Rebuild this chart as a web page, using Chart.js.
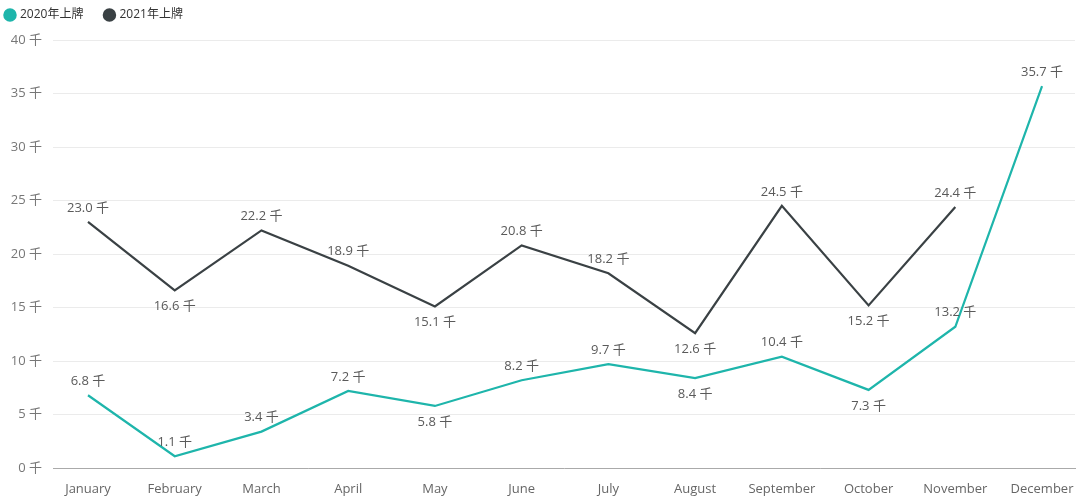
<!DOCTYPE html>
<html><head><meta charset="utf-8">
<script src="https://cdn.jsdelivr.net/npm/chart.js@4/dist/chart.umd.min.js"></script>
<style>html,body{margin:0;padding:0;background:#fff}#c{display:block}</style>
</head><body>
<canvas id="c" width="1080" height="497"></canvas>
<script>
const categories = ["January","February","March","April","May","June","July","August","September","October","November","December"];
const seriesNames = ["2020年上牌","2021年上牌"];
const values2020 = [6.8,1.1,3.4,7.2,5.8,8.2,9.7,8.4,10.4,7.3,13.2,35.7];
const values2021 = [23.0,16.6,22.2,18.9,15.1,20.8,18.2,12.6,24.5,15.2,24.4,null];
const yTicks = [0,5,10,15,20,25,30,35,40];
const unit = " 千";

const FONT = "'Open Sans','Noto Sans CJK SC',sans-serif";
const toPts = arr => arr.map((v,i)=>({x:i,y:v}));

const labelPlugin = {
  id:'pointLabels',
  beforeLayout(chart){
    const lg = chart.legend;
    if (lg && !lg._patched){
      const f = lg.fit;
      lg.fit = function(){ f.call(this); this.height = 40; };
      const d = lg.draw;
      lg.draw = function(){ this.left -= 16; this.top -= 13; d.apply(this, arguments); this.left += 16; this.top += 13; };
      lg._patched = true;
    }
  },
  afterDatasetsDraw(chart){
    const ctx = chart.ctx;
    ctx.save();
    ctx.font = "13px " + FONT;
    ctx.fillStyle = "#5a5a5a";
    ctx.textAlign = "center";
    ctx.textBaseline = "middle";
    chart.data.datasets.forEach((ds,di)=>{
      const meta = chart.getDatasetMeta(di);
      const vals = ds.data.map(p=>p.y);
      meta.data.forEach((el,i)=>{
        const v = vals[i];
        if (v==null) return;
        const prev = vals[i-1], next = vals[i+1];
        const isMin = prev!=null && next!=null && v<prev && v<next && v>2;
        const dy = isMin ? 16 : -14;
        ctx.fillText(v.toFixed(1)+unit, el.x, el.y+dy);
      });
    });
    ctx.restore();
  }
};

new Chart(document.getElementById('c'),{
  type:'line',
  data:{datasets:[
    {label:seriesNames[0],data:toPts(values2020),borderColor:'#1EB5AB',backgroundColor:'#1EB5AB',borderWidth:2.2,pointRadius:0,tension:0},
    {label:seriesNames[1],data:toPts(values2021),borderColor:'#3A4144',backgroundColor:'#3A4144',borderWidth:2.2,pointRadius:0,tension:0}
  ]},
  options:{
    responsive:false,animation:false,devicePixelRatio:1,
    layout:{padding:{left:0,right:5,top:0,bottom:0}},
    plugins:{
      legend:{display:true,position:'top',align:'start',
        labels:{usePointStyle:true,pointStyle:'circle',boxWidth:8,boxHeight:8,padding:22,color:'#333',font:{family:FONT,size:12}}
      },
      tooltip:{enabled:false}
    },
    scales:{
      x:{type:'linear',min:-0.4035,max:11.38,
        afterBuildTicks(s){s.ticks=categories.map((c,i)=>({value:i}));},
        ticks:{callback:v=>categories[v],color:'#666',font:{family:FONT,size:13},padding:13,maxRotation:0,autoSkip:false},
        grid:{display:false,drawTicks:false},
        border:{display:true,color:'#AAAAAA',width:1},
        afterFit(s){s.height=29;s.paddingLeft=0;s.paddingRight=0;}
      },
      y:{min:0,max:40,
        afterBuildTicks(s){s.ticks=yTicks.map(v=>({value:v}));},
        ticks:{callback:v=>v+unit,color:'#777',font:{family:FONT,size:13},padding:11},
        grid:{color:'#EBEBEB',drawTicks:false},
        border:{display:false},
        afterFit(s){s.width=53;s.paddingTop=0;s.paddingBottom=0;}
      }
    }
  },
  plugins:[labelPlugin]
});
</script>
</body></html>
